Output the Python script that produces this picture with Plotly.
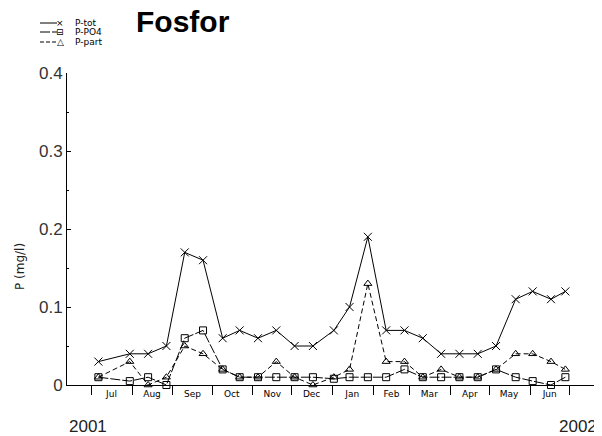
import plotly.graph_objects as go

dates = ["2001-07-06", "2001-07-30", "2001-08-13", "2001-08-27", "2001-09-10", "2001-09-24",
         "2001-10-09", "2001-10-22", "2001-11-05", "2001-11-19", "2001-12-03", "2001-12-17",
         "2002-01-02", "2002-01-14", "2002-01-28", "2002-02-11", "2002-02-25", "2002-03-11",
         "2002-03-25", "2002-04-08", "2002-04-22", "2002-05-06", "2002-05-21", "2002-06-03",
         "2002-06-17", "2002-06-28"]
p_tot = [0.03, 0.04, 0.04, 0.05, 0.17, 0.16, 0.06, 0.07, 0.06, 0.07, 0.05, 0.05, 0.07,
         0.10, 0.19, 0.07, 0.07, 0.06, 0.04, 0.04, 0.04, 0.05, 0.11, 0.12, 0.11, 0.12]
p_po4 = [0.01, 0.005, 0.01, 0.0, 0.06, 0.07, 0.02, 0.01, 0.01, 0.01, 0.01, 0.01, 0.008,
         0.01, 0.01, 0.01, 0.02, 0.01, 0.01, 0.01, 0.01, 0.02, 0.01, 0.005, 0.0, 0.01]
p_part = [0.01, 0.03, 0.0, 0.01, 0.05, 0.04, 0.02, 0.01, 0.01, 0.03, 0.01, 0.0, 0.01,
          0.02, 0.13, 0.03, 0.03, 0.01, 0.02, 0.01, 0.01, 0.02, 0.04, 0.04, 0.03, 0.02]

month_starts = ["2001-07-01", "2001-08-01", "2001-09-01", "2001-10-01", "2001-11-01", "2001-12-01",
                "2002-01-01", "2002-02-01", "2002-03-01", "2002-04-01", "2002-05-01", "2002-06-01",
                "2002-07-01"]
month_mids = ["2001-07-16", "2001-08-16", "2001-09-16", "2001-10-16", "2001-11-16", "2001-12-16",
              "2002-01-16", "2002-02-15", "2002-03-16", "2002-04-16", "2002-05-16", "2002-06-16"]
month_labels = ["Jul", "Aug", "Sep", "Oct", "Nov", "Dec", "Jan", "Feb", "Mar", "Apr", "May", "Jun"]
year_labels = ["2001", "2002"]

# the page body has an 8px margin, so the figure is made 8px smaller and offset
OFF = 8
W, H = 602 - OFF, 436 - OFF
PL, PT, PB = 67, 73, 385          # plot area edges in page pixels
L, T = PL - OFF, PT - OFF
B = H - (PB - OFF)
R = 0
PW, PH = W - L - R, H - T - B


def px(x):
    return (x - PL) / PW


def py(y):
    return (PB - y) / PH


fig = go.Figure()
fig.add_trace(go.Scatter(x=dates, y=p_tot, name="P-tot", mode="lines+markers",
                         line=dict(color="black", width=1),
                         marker=dict(symbol="x-thin", size=8, line=dict(color="black", width=1)),
                         cliponaxis=False))
fig.add_trace(go.Scatter(x=dates, y=p_po4, name="P-PO4", mode="lines+markers",
                         line=dict(color="black", width=1, dash="10px,2px"),
                         marker=dict(symbol="square-open", size=7, color="black",
                                     line=dict(color="black", width=1)),
                         cliponaxis=False))
fig.add_trace(go.Scatter(x=dates, y=p_part, name="P-part", mode="lines+markers",
                         line=dict(color="black", width=1, dash="5px,3px"),
                         marker=dict(symbol="triangle-up-open", size=7, color="black",
                                     line=dict(color="black", width=1)),
                         cliponaxis=False))

# compact hand-drawn legend, like the reference
leg_rows = [(23, "solid", "\u00d7", "P-tot"), (32, "10px,2px", "\u229f", "P-PO4"),
            (42, "4px,2px", "\u25b3", "P-part")]
shapes = []
anns = []
for yy, dash, sym, name in leg_rows:
    shapes.append(dict(type="line", xref="paper", yref="paper", x0=px(40), x1=px(57),
                       y0=py(yy), y1=py(yy), line=dict(color="black", width=1, dash=dash)))
    anns.append(dict(xref="paper", yref="paper", x=px(60), y=py(yy), text=sym, showarrow=False,
                     font=dict(family="DejaVu Sans", size=9, color="black"),
                     xanchor="center", yanchor="middle"))
    anns.append(dict(xref="paper", yref="paper", x=px(73), y=py(yy), text=name, showarrow=False,
                     font=dict(family="DejaVu Sans", size=9, color="black"),
                     xanchor="left", yanchor="middle"))

# y-axis title
anns.append(dict(xref="paper", yref="paper", x=px(20), y=py(267), text="P (mg/l)", textangle=-90,
                 showarrow=False, font=dict(family="DejaVu Sans", size=12, color="#222"),
                 xanchor="center", yanchor="middle"))
# year labels
anns.append(dict(xref="paper", yref="paper", x=px(88), y=py(426), text=year_labels[0], showarrow=False,
                 font=dict(family="Liberation Sans", size=17, color="#222"),
                 xanchor="center", yanchor="middle"))
anns.append(dict(xref="paper", yref="paper", x=px(578), y=py(426), text=year_labels[1], showarrow=False,
                 font=dict(family="Liberation Sans", size=17, color="#222"),
                 xanchor="center", yanchor="middle"))

fig.update_layout(
    width=W, height=H,
    margin=dict(l=L, r=R, t=T, b=B),
    paper_bgcolor="white", plot_bgcolor="white",
    showlegend=False,
    title=dict(text="<b>Fosfor</b>", x=(136 - OFF) / W, xanchor="left", xref="container",
               y=1 - (32 - OFF) / H, yanchor="bottom", yref="container",
               font=dict(family="Liberation Sans", size=30, color="black")),
    shapes=shapes, annotations=anns,
    xaxis=dict(type="date", range=["2001-06-12", "2002-07-26"],
               tickvals=month_mids, ticktext=month_labels, ticks="",
               tickfont=dict(family="DejaVu Sans", size=9, color="black"),
               showgrid=False, zeroline=False, showline=True, linecolor="black", linewidth=1,
               minor=dict(tickvals=month_starts, ticks="outside", ticklen=9, tickcolor="black",
                          tickwidth=1, showgrid=False)),
    yaxis=dict(range=[0, 0.4], tickvals=[0, 0.1, 0.2, 0.3, 0.4],
               ticktext=["0", "0.1", "0.2", "0.3", "0.4"],
               ticks="inside", ticklen=4, tickcolor="black",
               tickfont=dict(family="Liberation Sans", size=17, color="#333"),
               showgrid=False, zeroline=False, showline=True, linecolor="black", linewidth=1,
               minor=dict(dtick=0.05, tick0=0, ticks="inside", ticklen=2, tickcolor="black",
                          showgrid=False)),
)

fig.write_html("out.html")
